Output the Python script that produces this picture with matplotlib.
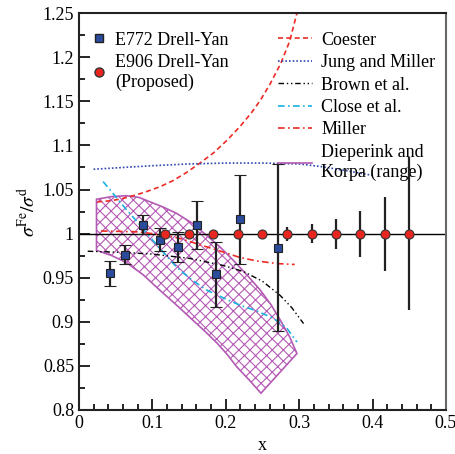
import numpy as np
import matplotlib.pyplot as plt
from matplotlib.lines import Line2D

plt.rcParams['font.family'] = ['Liberation Serif', 'DejaVu Serif']
plt.rcParams['mathtext.fontset'] = 'stix'
plt.rcParams['hatch.linewidth'] = 0.8

# E772 Drell-Yan data
e772_x = [0.042, 0.063, 0.087, 0.111, 0.135, 0.161, 0.187, 0.219, 0.271]
e772_y = [0.955, 0.976, 1.010, 0.993, 0.985, 1.010, 0.954, 1.016, 0.984]
e772_err = [0.014, 0.011, 0.011, 0.013, 0.017, 0.027, 0.037, 0.050, 0.095]

# E906 proposed
e906_x = [0.117, 0.150, 0.183, 0.217, 0.250, 0.283, 0.317, 0.350, 0.383, 0.417, 0.450]
e906_y = [1.0] * 11
e906_err = [0.003, 0.003, 0.003, 0.003, 0.004, 0.008, 0.011, 0.017, 0.026, 0.042, 0.087]

# model curves
coester_x = [0.025, 0.04, 0.056, 0.074, 0.09, 0.11, 0.128, 0.146, 0.165, 0.184, 0.202,
             0.22, 0.235, 0.247, 0.26, 0.275, 0.287, 0.297]
coester_y = [1.036, 1.037, 1.039, 1.043, 1.047, 1.053, 1.060, 1.069, 1.080, 1.092, 1.106,
             1.122, 1.137, 1.151, 1.169, 1.193, 1.218, 1.250]

jung_x = [0.02, 0.06, 0.1, 0.15, 0.2, 0.25, 0.3, 0.33, 0.36, 0.4]
jung_y = [1.073, 1.075, 1.077, 1.079, 1.080, 1.080, 1.079, 1.076, 1.072, 1.066]

brown_x = [0.012, 0.05, 0.097, 0.15, 0.196, 0.224, 0.250, 0.274, 0.29, 0.306]
brown_y = [0.980, 0.979, 0.977, 0.972, 0.964, 0.957, 0.946, 0.930, 0.916, 0.898]

close_x = [0.033, 0.046, 0.065, 0.083, 0.100, 0.117, 0.133, 0.153, 0.174, 0.197, 0.219,
           0.243, 0.265, 0.283, 0.297]
close_y = [1.059, 1.046, 1.027, 1.010, 0.993, 0.977, 0.962, 0.948, 0.936, 0.927, 0.919,
           0.912, 0.904, 0.893, 0.877]

miller_x = [0.03, 0.08, 0.12, 0.14, 0.155, 0.174, 0.197, 0.219, 0.242, 0.27, 0.294]
miller_y = [1.003, 1.002, 0.998, 0.994, 0.990, 0.985, 0.979, 0.973, 0.969, 0.966, 0.965]

dk_up_x = [0.024, 0.045, 0.065, 0.082, 0.097, 0.115, 0.133, 0.154, 0.174, 0.192, 0.210,
           0.229, 0.247, 0.262, 0.275, 0.287, 0.297]
dk_up_y = [1.039, 1.042, 1.043, 1.041, 1.036, 1.030, 1.023, 1.012, 0.998, 0.985, 0.970,
           0.953, 0.936, 0.919, 0.901, 0.883, 0.864]
dk_lo_x = [0.024, 0.045, 0.065, 0.088, 0.110, 0.133, 0.155, 0.172, 0.188, 0.202, 0.215,
           0.232, 0.248]
dk_lo_y = [0.981, 0.975, 0.967, 0.953, 0.936, 0.919, 0.902, 0.889, 0.876, 0.863, 0.849,
           0.834, 0.819]

magenta = '#b45ab4'

fig = plt.figure(figsize=(4.56, 4.54), dpi=100)
ax = fig.add_axes([0.173, 0.097, 0.805, 0.874])

# band
band_x = dk_up_x + dk_lo_x[::-1]
band_y = dk_up_y + dk_lo_y[::-1]
ax.fill(band_x, band_y, facecolor='none', edgecolor=magenta, hatch='xxx', lw=1.2)

ax.axhline(1.0, color='black', lw=1.0, zorder=2)

ax.plot(coester_x, coester_y, color='#ee2a24', ls=(0, (3, 2)), lw=1.2)
ax.plot(jung_x, jung_y, color='#3048b0', ls=(0, (1, 1.2)), lw=1.2)
ax.plot(brown_x, brown_y, color='black', ls=(0, (4, 2, 1, 2, 1, 2)), lw=1.0)
ax.plot(close_x, close_y, color='#1ab0e0', ls=(0, (4, 2, 1, 2)), lw=1.2)
ax.plot(miller_x, miller_y, color='#ee2a24', ls=(0, (4, 2, 1, 2)), lw=1.2)

ax.errorbar(e772_x, e772_y, yerr=e772_err, fmt='s', color='black', ecolor='#222222',
            elinewidth=1.6, capsize=4, capthick=1.4, ms=6,
            mfc='#2b4c9c', mec='#222222', mew=0.8, zorder=5)
ax.errorbar(e906_x, e906_y, yerr=e906_err, fmt='o', color='black', ecolor='#222222',
            elinewidth=1.6, capsize=0, ms=6.5,
            mfc='#e8251f', mec='#333333', mew=0.8, zorder=6)

ax.set_xlim(0, 0.5)
ax.set_ylim(0.8, 1.25)
ax.set_xticks(np.arange(0, 0.51, 0.1))
ax.set_xticks(np.arange(0, 0.51, 0.02), minor=True)
ax.set_yticks(np.arange(0.8, 1.2501, 0.05))
ax.set_yticks(np.arange(0.8, 1.2501, 0.025), minor=True)
ax.set_xticklabels(['0', '0.1', '0.2', '0.3', '0.4', '0.5'])
ax.set_yticklabels(['0.8', '0.85', '0.9', '0.95', '1', '1.05', '1.1', '1.15', '1.2', '1.25'])
ax.tick_params(which='both', direction='in', top=False, right=False, labelsize=13, width=1.2)
ax.tick_params(which='major', length=8)
ax.tick_params(which='minor', length=4)
for s in ax.spines.values():
    s.set_linewidth(1.5)
    s.set_color('#222222')
ax.spines['right'].set_color('#666666')

ax.set_xlabel('x', fontsize=13)
ax.set_ylabel(r'$\sigma^{\mathrm{Fe}}/\sigma^{\mathrm{d}}$', fontsize=14, labelpad=2)

h1 = [Line2D([], [], ls='none', marker='s', ms=6, mfc='#2b4c9c', mec='#222222'),
      Line2D([], [], ls='none', marker='o', ms=6.5, mfc='#e8251f', mec='#333333')]
leg1 = ax.legend(h1, ['E772 Drell-Yan', 'E906 Drell-Yan\n(Proposed)'], loc='upper left',
                 bbox_to_anchor=(0.0, 0.985), frameon=False, fontsize=13,
                 handlelength=0.8, handletextpad=0.5, labelspacing=0.28, borderaxespad=0.3)
ax.add_artist(leg1)

h2 = [Line2D([], [], color='#ee2a24', ls=(0, (3, 2)), lw=1.2),
      Line2D([], [], color='#3048b0', ls=(0, (1, 1.2)), lw=1.2),
      Line2D([], [], color='black', ls=(0, (4, 2, 1, 2, 1, 2)), lw=1.0),
      Line2D([], [], color='#1ab0e0', ls=(0, (4, 2, 1, 2)), lw=1.2),
      Line2D([], [], color='#ee2a24', ls=(0, (4, 2, 1, 2)), lw=1.2),
      Line2D([], [], color=magenta, lw=1.2)]
ax.legend(h2, ['Coester', 'Jung and Miller', 'Brown et al.', 'Close et al.', 'Miller',
               'Dieperink and\nKorpa (range)'],
          loc='upper right', bbox_to_anchor=(1.005, 0.985), frameon=False, fontsize=13,
          handlelength=1.9, handletextpad=0.5, labelspacing=0.3, borderaxespad=0.3)

fig.savefig('out.png', dpi=100)
